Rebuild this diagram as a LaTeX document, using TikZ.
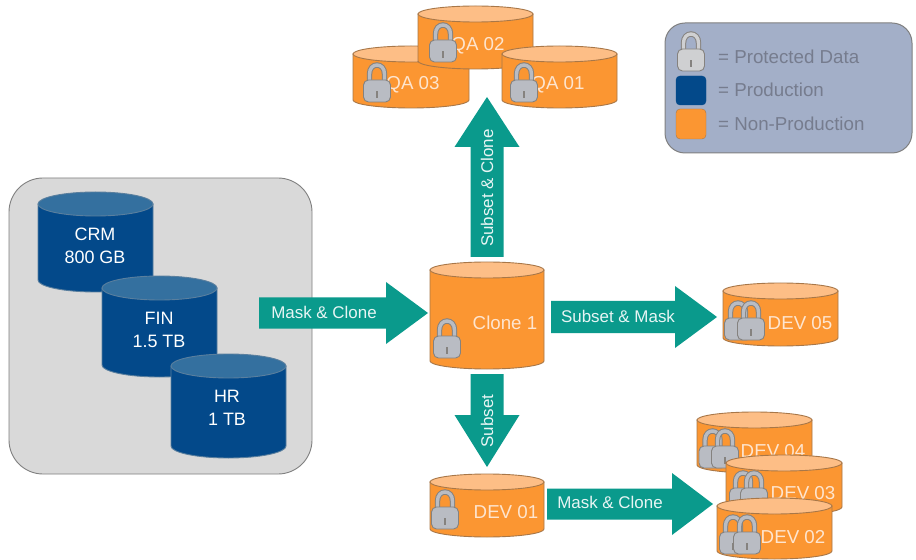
\documentclass[tikz,border=0pt]{standalone}
\usepackage{fontspec}
\setmainfont{Liberation Sans}
\usetikzlibrary{calc}
\definecolor{orgbody}{HTML}{FB9632}
\definecolor{orgtop}{HTML}{FDBE86}
\definecolor{orgedge}{HTML}{A87748}
\definecolor{blubody}{HTML}{03498A}
\definecolor{blutop}{HTML}{34709F}
\definecolor{bluedge}{HTML}{5A7F9E}
\definecolor{teal1}{HTML}{0A9A8C}
\definecolor{lockgray}{HTML}{B9BCC3}
\definecolor{lockedge}{HTML}{85827F}
\definecolor{legendlock}{HTML}{CFD0D2}
\definecolor{legendfill}{HTML}{A3AFC8}
\definecolor{legendtext}{HTML}{767C8E}
\newcommand{\lockfill}{lockgray}
\tikzset{
  x=1bp,y=-1bp,
  orangedb/.style={fill=orgbody,draw=orgedge,line width=.9bp},
  orangetop/.style={fill=orgtop,draw=orgedge,line width=.9bp},
  bluedb/.style={fill=blubody,draw=bluedge,line width=.9bp},
  bluetop/.style={fill=blutop,draw=bluedge,line width=.9bp},
  orangelabel/.style={text=orgtop!40!white,font=\fontsize{18.8}{19}\selectfont,inner sep=0pt},
  bluelabel/.style={text=white,font=\fontsize{18}{22.5}\selectfont,align=center,inner sep=0pt},
  arrowlabel/.style={text=white!90!teal1,font=\fontsize{17}{17}\selectfont,inner sep=0pt},
  legendlabel/.style={text=legendtext,font=\fontsize{18.8}{19}\selectfont,anchor=west,inner sep=0pt},
  padlock/.pic={
    \draw[lockedge,line width=5.4bp] (-7.5,-2) -- (-7.5,-9) .. controls (-7.5,-21) and (7.5,-21) .. (7.5,-9) -- (7.5,-2);
    \draw[\lockfill,line width=3.4bp] (-7.5,-2) -- (-7.5,-9) .. controls (-7.5,-21) and (7.5,-21) .. (7.5,-9) -- (7.5,-2);
    \draw[fill=\lockfill,draw=lockedge,line width=.9bp,rounded corners=5bp] (-13.5,-3) rectangle (13.5,19);
    \fill[lockedge] (-1.3,8) rectangle (1.3,15);
  }
}
% x0 x1 ytop ybot ry body top
\newcommand{\dbcyl}[7]{%
  \path[#6] (#1,#3+#5) -- (#1,#4-#5)
    .. controls (#1,#4-.45*#5) and ({(#1+#2)/2-.275*(#2-#1)},#4) .. ({(#1+#2)/2},#4)
    .. controls ({(#1+#2)/2+.275*(#2-#1)},#4) and (#2,#4-.45*#5) .. (#2,#4-#5)
    -- (#2,#3+#5) -- cycle;
  \path[#7] ({(#1+#2)/2},#3+#5) ellipse [x radius={(#2-#1)/2},y radius=#5];
}
% tail tip halfshaft halfhead headlen
\newcommand{\blockarrow}[5]{%
  \coordinate (hb) at ($(#2)!#5bp!(#1)$);
  \fill[teal1] ($(#1)!#3bp!90:(#2)$) -- ($(hb)!#3bp!90:(#2)$) -- ($(hb)!#4bp!90:(#2)$) -- (#2)
     -- ($(hb)!#4bp!-90:(#2)$) -- ($(hb)!#3bp!-90:(#2)$) -- ($(#1)!#3bp!-90:(#2)$) -- cycle;
}
\begin{document}
\begin{tikzpicture}
\useasboundingbox (0,0) rectangle (916,560);
\fill[white] (0,0) rectangle (916,560);
% production panel
\draw[fill=black!15,draw=black!50,line width=.9bp,rounded corners=34bp] (9,178) rectangle (312,474);
\dbcyl{38}{153}{192}{292}{12}{bluedb}{bluetop}
\node[bluelabel] (crm) at (95,246) {CRM\\800 GB};
\dbcyl{102}{217}{276}{377}{12}{bluedb}{bluetop}
\node[bluelabel] (fin) at (159,330) {FIN\\1.5 TB};
\dbcyl{171}{286}{354}{458}{12}{bluedb}{bluetop}
\node[bluelabel] (hr) at (227,408) {HR\\1 TB};
% QA
\dbcyl{353}{469}{46}{108}{8}{orangedb}{orangetop}
\node[orangelabel] (qa3) at (413,85) {QA 03};
\pic at (377,83) {padlock};
\dbcyl{418}{533}{6}{69}{8}{orangedb}{orangetop}
\node[orangelabel] (qa2) at (478,46) {QA 02};
\pic at (443,43) {padlock};
\dbcyl{502}{617}{46}{108}{8}{orangedb}{orangetop}
\node[orangelabel] (qa1) at (558,85) {QA 01};
\pic at (524,83) {padlock};
% clone
\dbcyl{430}{544}{262}{369}{8}{orangedb}{orangetop}
\node[orangelabel] (clone) at (505,323) {Clone 1};
\pic at (447,339) {padlock};
% dev 05
\dbcyl{723}{838}{283}{346}{8}{orangedb}{orangetop}
\node[orangelabel] (dev5) at (800,323) {DEV 05};
\pic at (738,321) {padlock};
\pic at (751,321) {padlock};
% dev 01
\dbcyl{430}{544}{474}{537}{8}{orangedb}{orangetop}
\node[orangelabel] (dev1) at (506,512) {DEV 01};
\pic at (445,510) {padlock};
% dev 04
\dbcyl{697}{812}{412}{473}{8}{orangedb}{orangetop}
\node[orangelabel] (dev4) at (773,451) {DEV 04};
\pic at (712.5,449) {padlock};
\pic at (725,449) {padlock};
% dev 03
\dbcyl{726}{842}{455}{515}{8}{orangedb}{orangetop}
\node[orangelabel] (dev3) at (803,493) {DEV 03};
\pic at (743,491) {padlock};
\pic at (754,491) {padlock};
% dev 02
\dbcyl{717}{832}{498}{559}{8}{orangedb}{orangetop}
\node[orangelabel] (dev2) at (793,537) {DEV 02};
\pic at (733,535) {padlock};
\pic at (747,535) {padlock};
% arrows
\coordinate (a1t) at (259,313); \coordinate (a1h) at (428,313);
\coordinate (a2t) at (487,257); \coordinate (a2h) at (487,97);
\coordinate (a3t) at (551,317); \coordinate (a3h) at (717,317);
\coordinate (a4t) at (487,374); \coordinate (a4h) at (487,467);
\coordinate (a5t) at (547,504); \coordinate (a5h) at (713,504);
\blockarrow{a1t}{a1h}{15.5}{31}{42}
\blockarrow{a2t}{a2h}{16.5}{32.5}{50}
\blockarrow{a3t}{a3h}{16}{31}{42}
\blockarrow{a4t}{a4h}{16.5}{32.5}{52}
\blockarrow{a5t}{a5h}{15.5}{31}{41}
\node[arrowlabel] (l1) at (324,312) {Mask \& Clone};
\node[arrowlabel,rotate=90] (l2) at (487,188) {Subset \& Clone};
\node[arrowlabel] (l3) at (618,316) {Subset \& Mask};
\node[arrowlabel,rotate=90] (l4) at (487,421) {Subset};
\node[arrowlabel] (l5) at (610,502) {Mask \& Clone};
% legend
\draw[fill=legendfill,draw=black!50,line width=1bp,rounded corners=20bp] (665,23) rectangle (912,153);
\renewcommand{\lockfill}{legendlock}
\pic at (691,52) {padlock};
\draw[fill=blubody,draw=blubody,rounded corners=4bp] (676,76) rectangle (706,105);
\draw[fill=orgbody,draw=orgedge,rounded corners=4bp] (676,109) rectangle (706,139);
\node[legendlabel] (lg1) at (718,57) {= Protected Data};
\node[legendlabel] (lg2) at (718,90) {= Production};
\node[legendlabel] (lg3) at (718,124) {= Non-Production};
\end{tikzpicture}
\end{document}
